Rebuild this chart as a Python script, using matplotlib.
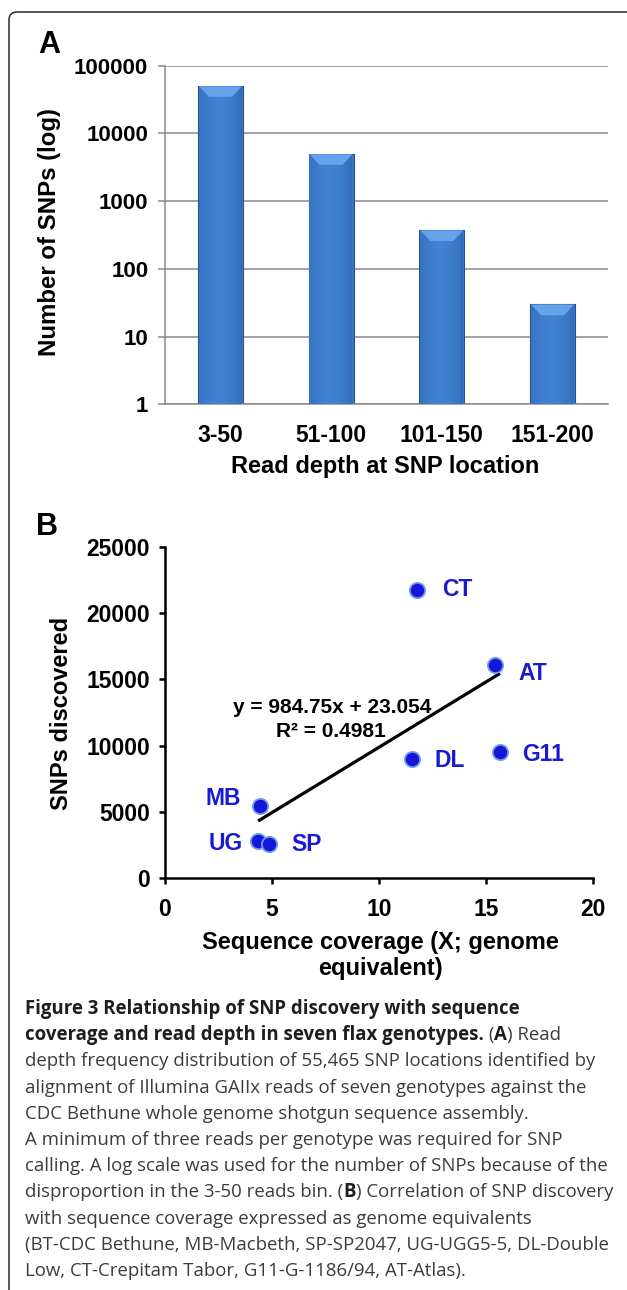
import matplotlib
matplotlib.use("Agg")
import matplotlib.pyplot as plt
import numpy as np
from matplotlib.patches import FancyBboxPatch, Polygon
from matplotlib.transforms import IdentityTransform
from matplotlib.colors import to_rgb

# --- data, panel A ---
depth_bins = ["3-50", "51-100", "101-150", "151-200"]
snp_counts = [50500, 5000, 375, 30]
log_ticks = [1, 10, 100, 1000, 10000, 100000]
log_tick_labels = ["1", "10", "100", "1000", "10000", "100000"]

# --- data, panel B ---
genotypes = ["CT", "AT", "G11", "DL", "MB", "UG", "SP"]
coverage = [11.8, 15.42, 15.66, 11.55, 4.45, 4.36, 4.88]
snps_found = [21750, 16080, 9550, 8970, 5450, 2840, 2560]
slope, intercept, r_squared = 984.75, 23.054, 0.4981
cov_ticks = [0, 5, 10, 15, 20]
snp_ticks = [0, 5000, 10000, 15000, 20000, 25000]

caption_lines = [
    [("Figure 3 Relationship of SNP discovery with sequence", True)],
    [("coverage and read depth in seven flax genotypes.", True), (" (", False), ("A", True), (") Read", False)],
    [("depth frequency distribution of 55,465 SNP locations identified by", False)],
    [("alignment of Illumina GAIIx reads of seven genotypes against the", False)],
    [("CDC Bethune whole genome shotgun sequence assembly.", False)],
    [("A minimum of three reads per genotype was required for SNP", False)],
    [("calling. A log scale was used for the number of SNPs because of the", False)],
    [("disproportion in the 3-50 reads bin. (", False), ("B", True), (") Correlation of SNP discovery", False)],
    [("with sequence coverage expressed as genome equivalents", False)],
    [("(BT-CDC Bethune, MB-Macbeth, SP-SP2047, UG-UGG5-5, DL-Double", False)],
    [("Low, CT-Crepitam Tabor, G11-G-1186/94, AT-Atlas).", False)],
]

# label placement next to each point (pixels, ha)
label_pos = {
    "CT": (25, 0, "left"), "AT": (24, -8, "left"), "G11": (22, -3, "left"),
    "DL": (23, -1, "left"), "MB": (-19, 8, "right"), "UG": (-15, -3, "right"),
    "SP": (22, 0, "left"),
}

W, H = 627, 1290
plt.rcParams['font.family'] = ['Liberation Sans', 'DejaVu Sans']
fig = plt.figure(figsize=(W / 100, H / 100), dpi=100)


def frac(x0, y0, x1, y1):
    # pixel box (top-left origin) -> figure fraction rect
    return [x0 / W, 1 - y1 / H, (x1 - x0) / W, (y1 - y0) / H]


# outer frame, open at right and bottom
frame = FancyBboxPatch((9, -60), 800, H - 12 + 60, boxstyle="round,pad=0,rounding_size=8",
                       transform=IdentityTransform(), fill=False, edgecolor="#2a2a2a", linewidth=1.1)
fig.add_artist(frame)

# ---------------- panel A ----------------
gray = "#8a8a8a"
axA = fig.add_axes(frac(165, 65.7, 608, 404.3))
axA.set_yscale("log")
xpos = np.arange(len(depth_bins)) + 0.5
bars = axA.bar(xpos, snp_counts, width=0.405, color="#3a78c6", edgecolor="#2a5290",
               linewidth=0.8, zorder=2)
axA.set_xlim(0, len(depth_bins))
axA.set_ylim(1, 100000)

# horizontal shading inside each bar
edge_c, mid_c = np.array(to_rgb("#2d60aa")), np.array(to_rgb("#4183d3"))
t = np.linspace(0, 1, 64)
w = np.clip(1 - np.abs(t - 0.45) / 0.55, 0, 1) ** 0.35
grad = (edge_c[None, :] * (1 - w[:, None]) + mid_c[None, :] * w[:, None])[None, :, :]
for b in bars:
    im = axA.imshow(grad, extent=(b.get_x() + 0.006, b.get_x() + b.get_width() - 0.006, 1, b.get_height()),
                    aspect="auto", zorder=3, interpolation="bilinear")
    im.set_clip_path(b)
axA.set_xlim(0, len(depth_bins))
axA.set_ylim(1, 100000)

axA.set_yticks(log_ticks, log_tick_labels)
axA.minorticks_off()
axA.set_xticks(xpos, depth_bins)
axA.tick_params(axis="y", length=5, width=1.1, color=gray, pad=7, labelsize=16)
axA.tick_params(axis="x", length=0, pad=14, labelsize=16.5)
for lab in axA.get_xticklabels() + axA.get_yticklabels():
    lab.set_fontweight("bold")
axA.grid(axis="y", color=gray, linewidth=1.1, zorder=1)
axA.set_axisbelow(True)
for s in ["top", "right"]:
    axA.spines[s].set_visible(False)
axA.spines["left"].set_color(gray)
axA.spines["bottom"].set_color(gray)
axA.spines["left"].set_linewidth(1.1)
axA.spines["bottom"].set_linewidth(1.1)

fig.text(50 / W, 1 - 232 / H, "Number of SNPs (log)", rotation=90, ha="center", va="center",
         fontsize=17.3, fontweight="bold")
fig.text(385 / W, 1 - 466 / H, "Read depth at SNP location", ha="center", va="center",
         fontsize=17, fontweight="bold")
fig.text(49 / W, 1 - 45 / H, "A", ha="center", va="center", fontsize=22, fontweight="bold")

# ---------------- panel B ----------------
axB = fig.add_axes(frac(164.8, 546.7, 592.8, 878.3))
axB.set_xlim(0, 20)
axB.set_ylim(0, 25000)
xs = np.array([min(coverage), max(coverage)])
axB.plot(xs, slope * xs + intercept, color="black", linewidth=2.3, zorder=2, solid_capstyle="butt")
axB.plot(coverage, snps_found, "o", markersize=11, markerfacecolor="#1616d8",
         markeredgecolor="#6f9fe8", markeredgewidth=1.3, zorder=3, linestyle="none")
for g, cx, cy in zip(genotypes, coverage, snps_found):
    dx, dy, ha = label_pos[g]
    axB.annotate(g, (cx, cy), xytext=(dx, dy), textcoords="offset pixels", ha=ha, va="center",
                 fontsize=16.5, fontweight="bold", color="#1a1ad2")

axB.text(0.391, 0.514, f"y = {slope}x + {intercept}", transform=axB.transAxes, ha="center",
         va="center", fontsize=15, fontweight="bold")
axB.text(0.389, 0.443, f"R² = {r_squared}", transform=axB.transAxes, ha="center",
         va="center", fontsize=15, fontweight="bold")

axB.set_xticks(cov_ticks)
axB.set_yticks(snp_ticks)
axB.tick_params(axis="both", length=4.3, width=1.8, direction="out", labelsize=16.5)
axB.tick_params(axis="x", pad=10)
axB.tick_params(axis="y", pad=6.5)
for lab in axB.get_xticklabels() + axB.get_yticklabels():
    lab.set_fontweight("bold")
for s in ["top", "right"]:
    axB.spines[s].set_visible(False)
for s in ["left", "bottom"]:
    axB.spines[s].set_linewidth(1.8)

fig.text(62 / W, 1 - 713 / H, "SNPs discovered", rotation=90, ha="center", va="center",
         fontsize=17, fontweight="bold")
fig.text(380 / W, 1 - 942 / H, "Sequence coverage (X; genome", ha="center",
         va="center", fontsize=17, fontweight="bold")
fig.text(380 / W, 1 - 968 / H, "equivalent)", ha="center",
         va="center", fontsize=17, fontweight="bold")
fig.text(47 / W, 1 - 527 / H, "B", ha="center", va="center", fontsize=22, fontweight="bold")

# bevel on top of each bar, in pixels
fig.canvas.draw()
for b in bars:
    (px0, py), (px1, _) = axA.transData.transform([(b.get_x(), b.get_height()),
                                                   (b.get_x() + b.get_width(), b.get_height())])
    bev = Polygon([(px0 + 1, py - 0.5), (px1 - 1, py - 0.5), (px1 - 11, py - 11), (px0 + 11, py - 11)],
                  closed=True, transform=IdentityTransform(), facecolor="#6aa8ee",
                  edgecolor="none", alpha=0.9)
    fig.add_artist(bev)

# ---------------- caption ----------------
renderer = fig.canvas.get_renderer()
base = 1014
for i, line in enumerate(caption_lines):
    x = 25 / W
    y = 1 - (base + i * 26.2) / H
    for text, bold in line:
        tt = fig.text(x, y, text, ha="left", va="baseline", fontsize=13.4,
                      family=["Open Sans", "DejaVu Sans"],
                      fontweight="bold" if bold else "normal",
                      color="#1e1e1e" if bold else "#3c3c3c")
        x = tt.get_window_extent(renderer).x1 / W

fig.savefig("out.png", dpi=100)
